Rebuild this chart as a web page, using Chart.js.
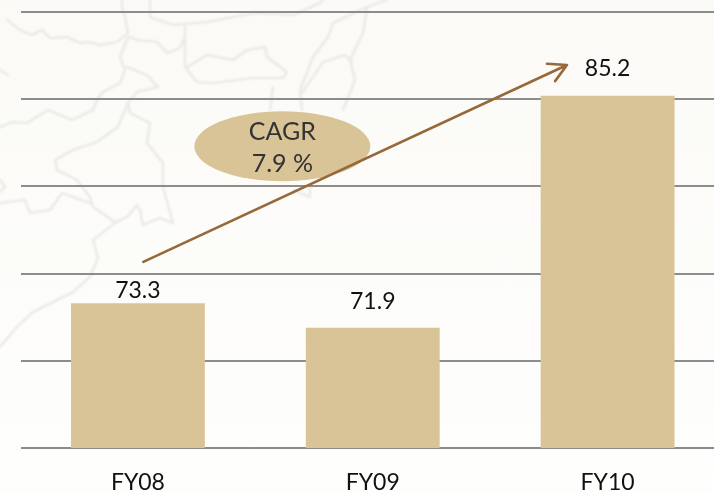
<!DOCTYPE html>
<html>
<head>
<meta charset="utf-8">
<style>
html,body{margin:0;padding:0;width:714px;height:492px;overflow:hidden;background:#fbfaf7;}
#map{position:absolute;left:0;top:0;width:714px;height:492px;}
#wrap{position:absolute;left:0;top:0;width:725px;height:492px;}
</style>
<script src="https://cdn.jsdelivr.net/npm/chart.js@4"></script>
</head>
<body>
<svg id="map" viewBox="0 0 714 492" fill="none" stroke-linejoin="round" stroke-linecap="round">
<defs>
<linearGradient id="g" x1="0" y1="0" x2="0" y2="1"><stop offset="0" stop-color="#fbfaf6"/><stop offset="1" stop-color="#fefefd"/></linearGradient>
<filter id="soft" x="-5%" y="-5%" width="110%" height="110%"><feGaussianBlur stdDeviation="0.8"/></filter>
</defs>
<rect width="714" height="492" fill="url(#g)"/>
<g stroke="#e8e7e3" stroke-width="2.2" filter="url(#soft)">
<polyline points="7,20 20,30 32,35 42,30 50,38 67,37 80,43 88,42 100,45 117,42 128,33 125,17 122,7 122,0"/>
<polyline points="128,37 120,57 125,70 120,83 103,92 97,100 93,110 72,120 48,110 27,123 13,122 0,127"/>
<polyline points="127,67 147,75 158,87 137,92 128,103 130,113 150,123 147,143 163,163 163,187 173,223 160,218 150,222 143,225 140,210 137,205 128,216 115,223 93,240 98,258 90,277 73,292 33,312 17,327 0,347"/>
<polyline points="128,103 118,127 97,142 73,150 55,160 57,170 77,180 90,197 93,207 115,222"/>
<polyline points="0,203 25,200 30,213 50,210 62,193 90,203"/>
<polyline points="150,0 150,17 173,25 207,22 233,17 257,13 293,15 320,3 323,0"/>
<polyline points="185,27 185,67 197,82 213,83 253,78 283,78 287,72 267,57 265,47 247,50 233,60 207,55 187,67"/>
<polyline points="185,37 180,48 167,53 157,42 137,40 130,37"/>
<polyline points="273,87 270,110"/>
<polyline points="387,0 367,7 333,23 328,37 313,57 308,70 300,90 302,110"/>
<polyline points="352,62 345,55 323,62 313,77 302,93"/>
<polyline points="367,7 363,33 350,60 355,80 343,110"/>
<polyline points="293,190 310,197 310,187"/>
<polyline points="0,70 8,75"/>
<polyline points="0,180 5,187 0,192"/>
</g>
</svg>
<div id="wrap"><canvas id="c" width="725" height="492"></canvas></div>
<script>
const categories = ["FY08", "FY09", "FY10"];
const revenue = [73.3, 71.9, 85.2];
const axisTicks = [65, 70, 75, 80, 85, 90];
const cagrLabel = ["CAGR", "7.9 %"];
// annotation anchors in data space: [category position, axis value]
const arrowStart = [0.023, 75.67];
const arrowEnd = [1.827, 86.96];
const bubbleCentre = [0.615, 82.3];
// how far each value label sits above its bar, in pixels
const labelLift = [5, 19, 20];

const FONT = "Lato, Carlito, sans-serif";

const overlay = {
  id: "overlay",
  afterDatasetsDraw(chart) {
    const { ctx, scales: { x, y } } = chart;
    const px = p => [x.getPixelForValue(p[0]), y.getPixelForValue(p[1])];
    ctx.save();
    // CAGR bubble
    const [cx, cy] = px(bubbleCentre);
    ctx.fillStyle = "#d9c497";
    ctx.beginPath();
    ctx.ellipse(cx, cy, 88, 35, 0, 0, Math.PI * 2);
    ctx.fill();
    ctx.textAlign = "center";
    ctx.textBaseline = "alphabetic";
    ctx.fillStyle = "#333";
    ctx.font = "25px " + FONT;
    ctx.fillText(cagrLabel[0], cx, cy - 6);
    ctx.fillText(cagrLabel[1], cx, cy + 26);
    // arrow
    const [sx, sy] = px(arrowStart);
    const [ex, ey] = px(arrowEnd);
    ctx.strokeStyle = "#96683a";
    ctx.lineWidth = 2.6;
    ctx.lineCap = "round";
    ctx.beginPath();
    ctx.moveTo(sx, sy);
    ctx.lineTo(ex, ey);
    const a = Math.atan2(ey - sy, ex - sx);
    [0.5, -0.5].forEach(d => {
      ctx.moveTo(ex, ey);
      ctx.lineTo(ex - 20 * Math.cos(a + d), ey - 20 * Math.sin(a + d));
    });
    ctx.stroke();
    // value labels
    const meta = chart.getDatasetMeta(0);
    ctx.fillStyle = "#111";
    ctx.font = "23px " + FONT;
    meta.data.forEach((bar, i) => {
      ctx.fillText(revenue[i].toFixed(1), bar.x, bar.y - labelLift[i]);
    });
    ctx.restore();
  }
};

new Chart(document.getElementById("c"), {
  type: "bar",
  data: {
    labels: categories,
    datasets: [{
      data: revenue,
      backgroundColor: "#d9c497",
      borderWidth: 0,
      barPercentage: 0.57,
      categoryPercentage: 1
    }]
  },
  options: {
    responsive: false,
    animation: false,
    events: [],
    layout: { padding: { left: 20.5, top: 12, right: 0, bottom: 0 } },
    plugins: { legend: { display: false }, tooltip: { enabled: false } },
    scales: {
      x: {
        grid: { display: false },
        border: { display: false },
        ticks: { color: "#111", font: { family: FONT, size: 23 }, padding: 13, maxRotation: 0 },
        afterFit(s) { s.height = 44; }
      },
      y: {
        min: axisTicks[0],
        max: axisTicks[axisTicks.length - 1],
        afterBuildTicks(s) { s.ticks = axisTicks.map(v => ({ value: v })); },
        grid: { color: "#8c8c8c", lineWidth: 2, drawTicks: false },
        border: { display: false },
        ticks: { display: false },
        afterFit(s) { s.width = 0; }
      }
    }
  },
  plugins: [overlay]
});
</script>
</body>
</html>
